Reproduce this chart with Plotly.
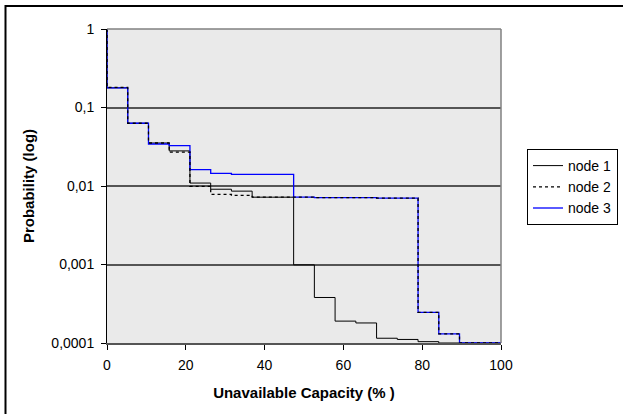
import plotly.graph_objects as go

# Unavailable capacity step breaks (%)
capacity = [0, 0, 5.26, 10.53, 15.79, 21.05, 26.32, 31.58, 36.84, 42.11, 47.37,
            52.63, 57.89, 63.16, 68.42, 73.68, 78.95, 84.21, 89.47, 94.74, 100]

node1 = [1, 0.178, 0.063, 0.0353, 0.028, 0.0109, 0.0091, 0.0086, 0.0072, 0.0072,
         0.00099, 0.00038, 0.00019, 0.00018, 0.000115, 0.000111, 0.000104,
         0.0001, 0.0001, 0.0001, 0.0001]
node2 = [1, 0.18, 0.063, 0.0353, 0.027, 0.0099, 0.0078, 0.0076, 0.0072, 0.0072,
         0.0072, 0.0071, 0.0071, 0.0071, 0.0070, 0.0070, 0.000245, 0.000131,
         0.0001, 0.0001, 0.0001]
node3 = [1, 0.178, 0.063, 0.0343, 0.0326, 0.0162, 0.0145, 0.0141, 0.0141, 0.0141,
         0.0072, 0.0071, 0.0071, 0.0071, 0.0070, 0.0070, 0.000245, 0.000131,
         0.0001, 0.0001, 0.0001]

x_ticks = [0, 20, 40, 60, 80, 100]
y_ticks = [1, 0.1, 0.01, 0.001, 0.0001]
y_labels = ["1", "0,1", "0,01", "0,001", "0,0001"]

FONT = "Liberation Sans, Arial, sans-serif"

fig = go.Figure()
fig.add_trace(go.Scatter(x=capacity, y=node1, name="node 1", mode="lines",
                         line=dict(color="#000000", width=1, shape="hv"),
                         legendrank=1, legendgroup="a"))
fig.add_trace(go.Scatter(x=capacity, y=node3, name="node 3", mode="lines",
                         line=dict(color="#0000FF", width=1.3, shape="hv"),
                         legendrank=3, legendgroup="c"))
fig.add_trace(go.Scatter(x=capacity, y=node2, name="node 2", mode="lines",
                         line=dict(color="#000000", width=1.3, shape="hv", dash="dot"),
                         legendrank=2, legendgroup="b"))

L, R, T, B = 107, 501, 29, 343
W, H = 623, 414

def px(x):
    return (x - L) / (R - L)

def py(y):
    return (B - y) / (B - T)

fig.update_layout(
    width=W, height=H,
    margin=dict(l=L, r=W - R, t=T, b=H - B, autoexpand=False),
    paper_bgcolor="white",
    plot_bgcolor="#EAEAEA",
    font=dict(family=FONT, size=14, color="#000000"),
    showlegend=True,
    legend=dict(x=527 / W, y=1 - 149 / H, xref="container", yref="container",
                xanchor="left", yanchor="top",
                bgcolor="white", bordercolor="#000000", borderwidth=1,
                font=dict(family=FONT, size=14), tracegroupgap=5,
                traceorder="normal"),
    xaxis=dict(range=[0, 100], tickvals=x_ticks, ticktext=[str(v) for v in x_ticks],
               showgrid=False, zeroline=False, showline=True, linecolor="#555555",
               linewidth=1.5, ticks="outside", ticklen=5, tickcolor="#000000",
               ticklabelstandoff=3,
               tickfont=dict(size=14), title=dict(text="<b>Unavailable Capacity (% )</b>",
               font=dict(size=15), standoff=16)),
    yaxis=dict(type="log", range=[-4, 0], tickvals=y_ticks, ticktext=y_labels,
               showgrid=True, gridcolor="#555555", gridwidth=1.5, zeroline=False,
               showline=True, linecolor="#000000", linewidth=1, ticks="outside",
               ticklen=5, tickcolor="#000000", tickfont=dict(size=14),
               ticklabelstandoff=4,
               title=dict(text="<b>Probability (log)</b>", font=dict(size=15), standoff=13)),
    shapes=[
        dict(type="line", xref="paper", yref="paper", x0=0, x1=1, y0=1, y1=1,
             line=dict(color="#808080", width=1.5)),
        dict(type="line", xref="paper", yref="paper", x0=1, x1=1, y0=0, y1=1,
             line=dict(color="#808080", width=1.5)),
        dict(type="rect", xref="paper", yref="paper", x0=px(5.5), x1=px(630),
             y0=py(420), y1=py(6), line=dict(color="#000000", width=2),
             fillcolor="rgba(0,0,0,0)", layer="below"),
    ],
)

fig.write_html("out.html", config={"displayModeBar": False},
               post_script="document.body.style.margin='0';")
